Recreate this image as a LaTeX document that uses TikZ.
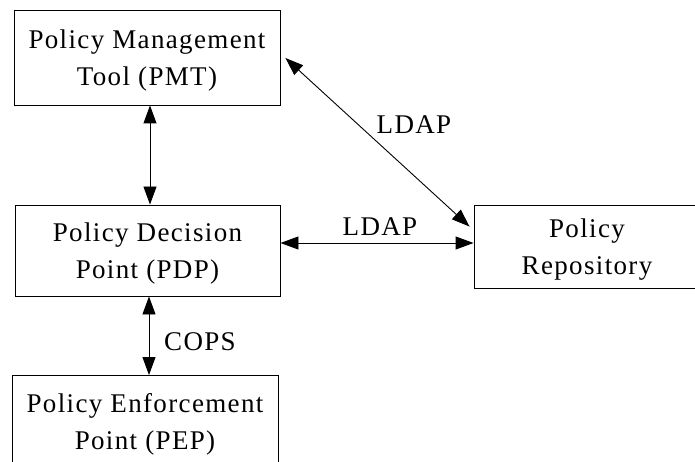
\documentclass[tikz,border=0pt]{standalone}
\usepackage{fontspec}
\setmainfont[LetterSpace=5]{Liberation Serif}
\usetikzlibrary{arrows.meta}
\begin{document}
\begin{tikzpicture}[x=1pt,y=-1pt,
  box/.style={draw, line width=0.9pt, inner sep=0pt, align=center,
    font=\fontsize{27}{37}\selectfont, text depth=0pt},
  conn/.style={line width=0.9pt, {Triangle[length=18pt,width=13pt]}-{Triangle[length=18pt,width=13pt]}},
  lbl/.style={font=\fontsize{27}{37}\selectfont, inner sep=0pt}]
\useasboundingbox (0,0) rectangle (695,462);
\clip (0,0) rectangle (695,462);
\node[box, minimum width=266pt, minimum height=95pt] (pmt) at (147,57.5) {Policy Management\\Tool (PMT)};
\node[box, minimum width=265pt, minimum height=91pt] (pdp) at (147.5,250.5) {Policy Decision\\Point (PDP)};
\node[box, minimum width=266pt, minimum height=91pt] (pep) at (145,421) {Policy Enforcement\\Point (PEP)};
\node[box, minimum width=226pt, minimum height=83pt] (repo) at (587,246.5) {Policy\\Repository};
\draw[conn] ([xshift=3pt]pmt.south) -- ([xshift=2.5pt]pdp.north);
\draw[conn] ([xshift=1.5pt]pdp.south) -- ([xshift=4pt]pep.north);
\draw[conn] ([yshift=7.5pt]pdp.east) -- ([yshift=3.5pt]repo.west);
\draw[conn] ([xshift=5pt,yshift=-0.5pt]pmt.east) -- ([xshift=-4pt,yshift=-22pt]repo.north west);
\node[lbl] (l1) at (414,125) {LDAP};
\node[lbl] (l2) at (380,227) {LDAP};
\node[lbl] (l3) at (200,342) {COPS};
\end{tikzpicture}
\end{document}
